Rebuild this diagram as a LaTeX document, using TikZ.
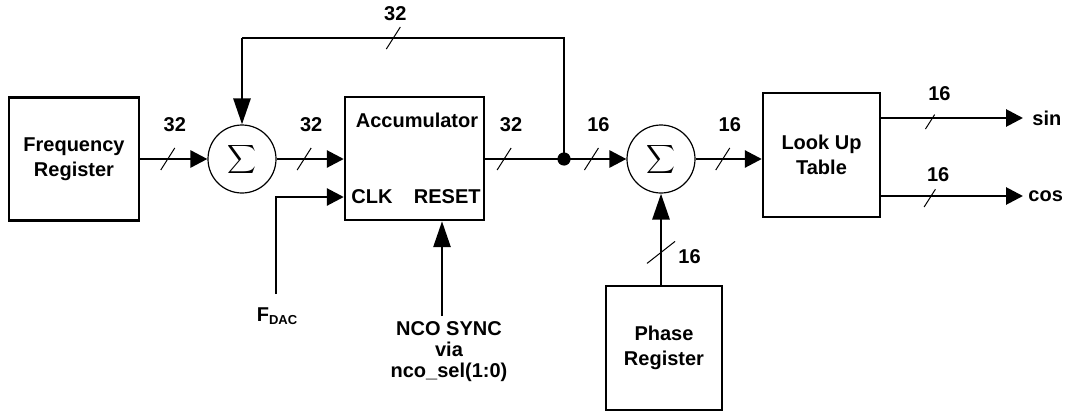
\documentclass[tikz,border=0pt]{standalone}
\usepackage{fontspec}
\setmainfont{Liberation Sans}
\usetikzlibrary{arrows.meta,positioning}

\newcommand{\dfont}{\fontsize{10}{12.5}\selectfont\bfseries}

\tikzset{
  block/.style={draw, line width=1.2pt, align=center, font=\dfont, inner sep=0pt},
  adder/.style={draw, circle, line width=0.6pt, minimum size=34pt, inner sep=0pt},
  txt/.style={font=\dfont, inner sep=0pt},
  bus/.style={line width=1.4pt},
  harrow/.style={-{Triangle[length=8.5pt,width=8.5pt]}},
  varrow/.style={-{Triangle[length=13pt,width=8.5pt]}},
  slash/.pic={\draw[-, line width=0.5pt] (-7,11) -- (7,-11);},
  vslash/.pic={\draw[-, line width=0.5pt] (-14,11) -- (14,-11);}
}

\begin{document}
\begin{tikzpicture}[x=0.5pt, y=-0.5pt]
  \useasboundingbox (0,0) rectangle (1091,412);

  % Blocks
  \node[block, minimum width=65pt, minimum height=61.5pt] (freq) at (74,159) {Frequency\\Register};
  \node[adder] (sum1) at (242,159) {$\displaystyle\sum$};
  \node[block, minimum width=69.5pt, minimum height=61.5pt] (acc) at (414.5,158.5) {};
  \node[txt] (acclbl) at (417,120) {Accumulator};
  \node[txt, anchor=west] (clk) at (351,197) {CLK};
  \node[txt, anchor=east] (reset) at (481,197) {RESET};
  \node[adder] (sum2) at (661,159) {$\displaystyle\sum$};
  \node[block, minimum width=58.5pt, minimum height=62pt] (lut) at (821.5,155) {Look Up\\Table};
  \node[block, minimum width=58pt, minimum height=62pt] (phase) at (664,348) {Phase\\Register};

  % Inputs and outputs
  \coordinate (fdac) at (276,294);
  \node[txt] (fdaclbl) at (277,316) {F\raisebox{-0.3ex}{\fontsize{6.5}{7}\selectfont DAC}};
  \coordinate (rst) at (442,316);
  \node[txt, align=center, font=\fontsize{10}{10.5}\selectfont\bfseries] (sync) at (449,352) {NCO SYNC\\via\\nco\_sel(1:0)};
  \node[txt, anchor=west] (sinlbl) at (1032,118) {sin};
  \node[txt, anchor=west] (coslbl) at (1028,196) {cos};
  \coordinate (j) at (564,159);
  \coordinate (fbtop) at (0,38);

  % Forward path
  \draw[bus, harrow] (freq) -- (sum1)
    pic[pos=0.41]{slash} node[txt, pos=0.41, above=12.9pt, xshift=3.5pt] (w1) {32};
  \draw[bus, harrow] (sum1) -- (acc.west |- sum1)
    pic[pos=0.41]{slash} node[txt, pos=0.41, above=12.9pt, xshift=3.5pt] (w2) {32};
  \draw[bus] (acc.east |- j) -- (j)
    pic[pos=0.24]{slash} node[txt, pos=0.24, above=12.9pt, xshift=3.5pt] (w3) {32};
  \draw[bus, harrow] (j) -- (sum2)
    pic[pos=0.44]{slash} node[txt, pos=0.44, above=12.9pt, xshift=3.5pt] (w4) {16};
  \draw[bus, harrow] (sum2) -- (lut.west |- sum2)
    pic[pos=0.41]{slash} node[txt, pos=0.41, above=12.9pt, xshift=3.5pt] (w5) {16};

  % Feedback
  \fill (j) circle (3.3pt);
  \draw[bus] (j) -- (j |- fbtop) -- (sum1 |- fbtop)
    pic[pos=0.53]{slash} node[txt, pos=0.53, above=7.9pt, xshift=1pt] (w0) {32};
  \draw[bus, varrow] (sum1 |- fbtop) -- (sum1);

  % Clock and reset
  \draw[bus, harrow] (fdac) |- (acc.west |- clk);
  \draw[bus, varrow] (rst) -- (rst |- acc.south);

  % Phase offset
  \draw[bus, varrow] (phase.north -| sum2) -- (sum2)
    pic[pos=0.355]{vslash} node[txt, pos=0.355, right=8pt, yshift=-2pt] (w6) {16};

  % Outputs
  \draw[bus, harrow, shorten >=4.5pt] (lut.east |- sinlbl) -- (sinlbl.west)
    pic[pos=0.34]{slash} node[txt, pos=0.34, above=7.9pt, xshift=3.5pt] (w7) {16};
  \draw[bus, harrow, shorten >=2.5pt] (lut.east |- coslbl) -- (coslbl.west)
    pic[pos=0.34]{slash} node[txt, pos=0.34, above=6.4pt, xshift=3.5pt] (w8) {16};
\end{tikzpicture}
\end{document}
